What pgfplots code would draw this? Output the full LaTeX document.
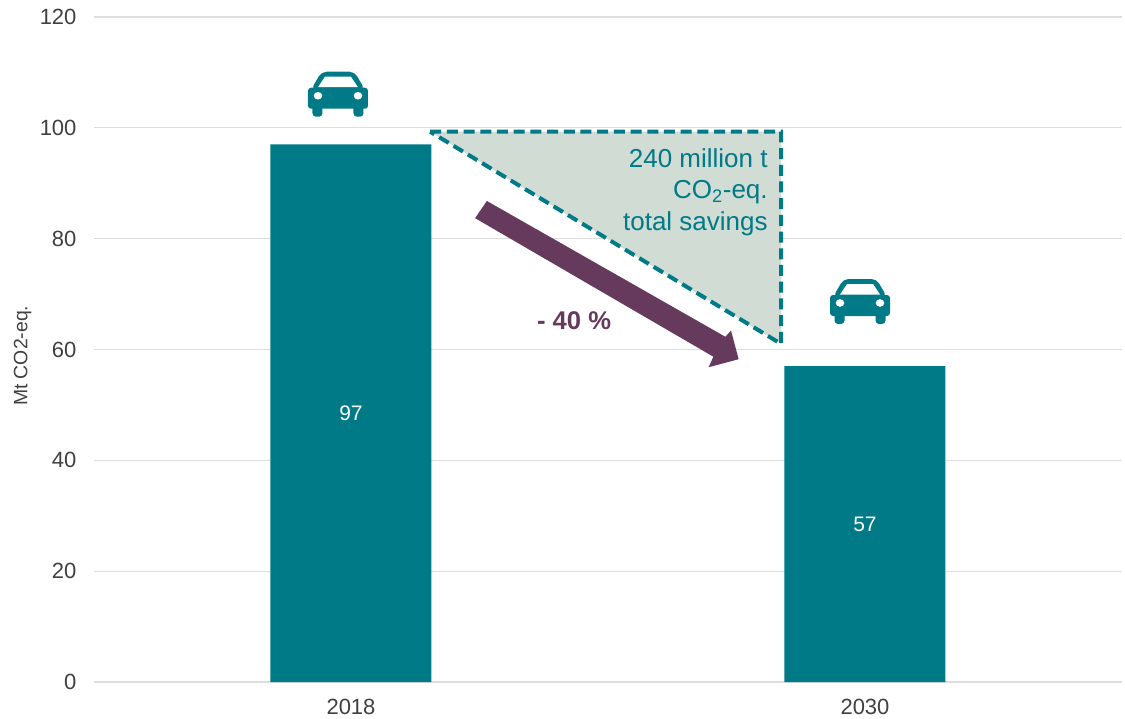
\documentclass[border=0pt]{standalone}
\usepackage{fontspec}
\setmainfont{Liberation Sans}
\usepackage{pgfplots}
\pgfplotsset{compat=1.18}
\definecolor{teal1}{HTML}{007A87}
\definecolor{plumarrow}{HTML}{663A5C}
\definecolor{sage}{HTML}{D0DCD4}
\definecolor{gridgray}{HTML}{DDDDDD}
\definecolor{txt}{HTML}{404040}
\newcommand{\pxfont}[1]{\fontsize{#1}{#1}\selectfont}
% car icon, origin at bottom centre, units are reference pixels
\newcommand{\car}[2]{%
  \begin{scope}[shift={(axis cs:#1,#2)}, x=1pt, y=1pt]
    \fill[teal1, rounded corners=3pt] (-30,8) rectangle (30,29);
    \fill[teal1, rounded corners=3.5pt] (-25.5,0) rectangle (-15.5,12);
    \fill[teal1, rounded corners=3.5pt] (15.5,0) rectangle (25.5,12);
    \fill[teal1, rounded corners=5pt] (-27,27) -- (-16.5,45) -- (16.5,45) -- (27,27) -- cycle;
    \fill[white] (-20,29.5) -- (-13,40) -- (13,40) -- (20,29.5) -- cycle;
    \fill[white] (-20,21) ellipse (4.3pt and 3.8pt);
    \fill[white] (20,21) ellipse (4.3pt and 3.8pt);
  \end{scope}}
\begin{document}
\begin{tikzpicture}
\begin{axis}[
    at={(0pt,0pt)}, anchor=south west,
    scale only axis,
    width=1028pt, height=665pt,
    xmin=-0.5, xmax=1.5,
    ymin=0, ymax=120,
    xtick={0,1},
    xticklabels={2018,2030},
    ytick={0,20,40,60,80,100,120},
    axis line style={draw=none},
    major tick length=0pt,
    ymajorgrids,
    grid style={line width=1.2pt, draw=gridgray},
    tick label style={text=txt, font=\pxfont{22}},
    /pgf/number format/assume math mode=true,
    yticklabel style={xshift=-14pt},
    xticklabel style={yshift=-14pt},
    ylabel={Mt CO2-eq.},
    every axis y label/.style={at={(axis description cs:-0.0695,0.4905)}, anchor=center, rotate=90, text=txt, font=\pxfont{19.4}},
    clip=false,
]
    % bars
    \addplot[ybar, bar width=161pt, fill=teal1, draw=none] coordinates {(0,97) (1,57)};
    % savings triangle
    \addplot[fill=sage, draw=teal1, line width=4pt, dash pattern=on 11pt off 5.7pt]
        coordinates {(0.154,99.3) (0.837,99.3) (0.837,61)} --cycle;
    % reduction arrow
    \addplot[fill=plumarrow, draw=none] coordinates {
        (0.2415,83.7) (0.2643,86.8) (0.7283,62.3) (0.7394,63.4)
        (0.7542,58.25) (0.6958,56.8) (0.7050,58.7)} --cycle;
    \node[text=white, font=\pxfont{21}] at (axis cs:0,48.5) {97};
    \node[text=white, font=\pxfont{21}] at (axis cs:1,28.4) {57};
    \node[anchor=east, align=right, text=teal1, font=\fontsize{26}{31.5}\selectfont, inner sep=0pt]
        at (axis cs:0.811,88.45) {240 million t\\CO\textsubscript{2}-eq.\\total savings};
    \node[text=plumarrow, font=\pxfont{25.6}\bfseries] at (axis cs:0.434,65.2) {- 40 \%};
    \car{-0.0253}{102.0}
    \car{0.9903}{64.6}
\end{axis}
\path (-94pt,-36pt) rectangle (1031pt,682pt);
\end{tikzpicture}
\end{document}
